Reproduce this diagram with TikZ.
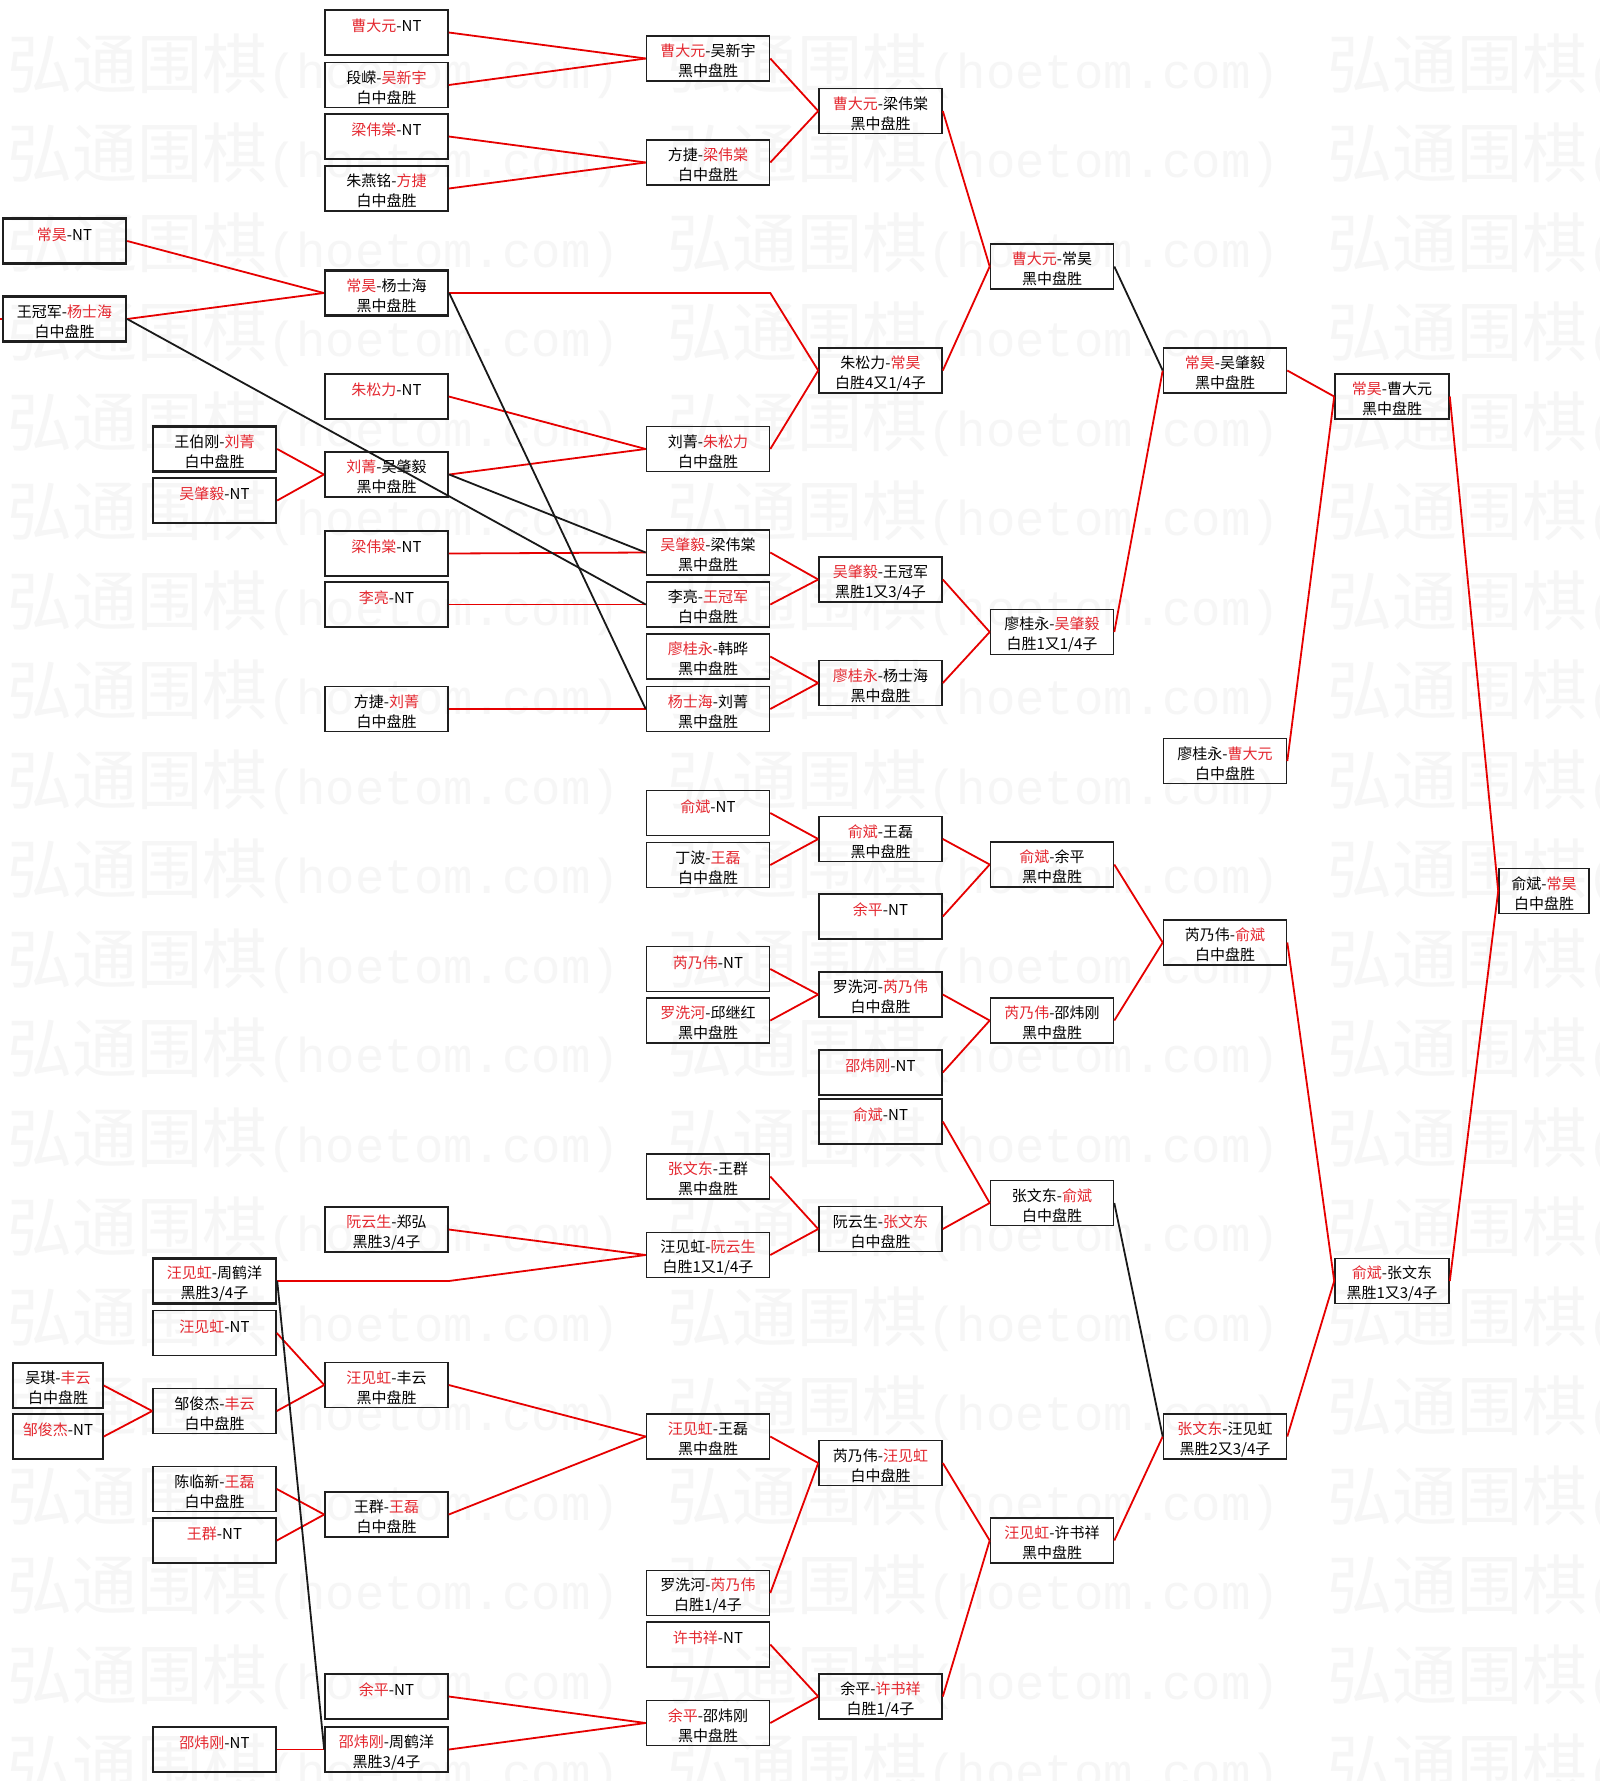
\documentclass[tikz,border=0pt]{standalone}
\usepackage{tikz}
\usepackage{fontspec}
\setmainfont{Noto Sans CJK SC}
\newfontfamily\wmlat{Liberation Mono}
\definecolor{wnred}{RGB}{228,40,48}
\definecolor{lnred}{RGB}{230,0,0}
\newcommand{\wn}[1]{\textcolor{wnred}{#1}}
\newcommand{\gm}[2]{\rule{0pt}{18pt}#1\\\rule{0pt}{1pt}#2}

\begin{document}
\begin{tikzpicture}[x=1pt, y=-1pt,
	box/.style={draw=black!88, line width=1.6pt, minimum width=123pt, minimum height=45pt, inner sep=0pt, align=center, font=\fontsize{15}{20}\selectfont},
	bold/.style={box, line width=2.4pt},
	narrow/.style={box, minimum width=90pt},
	hbox/.style={box, minimum width=114pt},
	win/.style={draw=lnred, line width=1.8pt},
	loss/.style={draw=black!90, line width=1.8pt},
	wm/.style={text=black!3.5, inner sep=0pt, anchor=base west}]
	\useasboundingbox (0,0) rectangle (1600,1781);
	\fill[white] (0,0) rectangle (1600,1781);

	% watermark
	\foreach \k in {0,...,19}
		\foreach \j in {0,1,2}
			\node[wm] at (7+660*\j, 88+89.5*\k) {\fontsize{65}{65}\selectfont 弘通围棋{\wmlat\fontsize{49}{49}\selectfont (hoetom.com)}};

	% upper half
	\node[bold] (a1) at (64.5,241) {\gm{\wn{常昊}-NT}{}};
	\node[bold] (a2) at (64.5,319) {\gm{王冠军-\wn{杨士海}}{白中盘胜}};
	\node[bold] (b1) at (214.5,449) {\gm{王伯刚-\wn{刘菁}}{白中盘胜}};
	\node[bold] (b2) at (214.5,500.5) {\gm{\wn{吴肇毅}-NT}{}};
	\node[box] (c1) at (386.5,32.5) {\gm{\wn{曹大元}-NT}{}};
	\node[box] (c2) at (386.5,85) {\gm{段嵘-\wn{吴新宇}}{白中盘胜}};
	\node[box] (c3) at (386.5,136.5) {\gm{\wn{梁伟棠}-NT}{}};
	\node[box] (c4) at (386.5,188.5) {\gm{朱燕铭-\wn{方捷}}{白中盘胜}};
	\node[bold] (c5) at (386.5,293) {\gm{\wn{常昊}-杨士海}{黑中盘胜}};
	\node[box] (c6) at (386.5,396.5) {\gm{\wn{朱松力}-NT}{}};
	\node[bold] (c7) at (386.5,474.5) {\gm{\wn{刘菁}-吴肇毅}{黑中盘胜}};
	\node[box] (c8) at (386.5,553.5) {\gm{\wn{梁伟棠}-NT}{}};
	\node[box] (c9) at (386.5,604.5) {\gm{\wn{李亮}-NT}{}};
	\node[box] (c10) at (386.5,709) {\gm{方捷-\wn{刘菁}}{白中盘胜}};
	\node[box] (d1) at (708,58.5) {\gm{\wn{曹大元}-吴新宇}{黑中盘胜}};
	\node[box] (d2) at (708,162.5) {\gm{方捷-\wn{梁伟棠}}{白中盘胜}};
	\node[box] (d3) at (708,449) {\gm{刘菁-\wn{朱松力}}{白中盘胜}};
	\node[box] (d4) at (708,552.5) {\gm{\wn{吴肇毅}-梁伟棠}{黑中盘胜}};
	\node[box] (d5) at (708,604.5) {\gm{李亮-\wn{王冠军}}{白中盘胜}};
	\node[box] (d6) at (708,656.5) {\gm{\wn{廖桂永}-韩晔}{黑中盘胜}};
	\node[box] (d7) at (708,709) {\gm{\wn{杨士海}-刘菁}{黑中盘胜}};
	\node[box] (e1) at (880.5,111) {\gm{\wn{曹大元}-梁伟棠}{黑中盘胜}};
	\node[box] (e2) at (880.5,370.5) {\gm{朱松力-\wn{常昊}}{白胜4又1/4子}};
	\node[box] (e3) at (880.5,579.5) {\gm{\wn{吴肇毅}-王冠军}{黑胜1又3/4子}};
	\node[box] (e4) at (880.5,683) {\gm{\wn{廖桂永}-杨士海}{黑中盘胜}};
	\node[box] (f1) at (1052,266.5) {\gm{\wn{曹大元}-常昊}{黑中盘胜}};
	\node[box] (f2) at (1052,632) {\gm{廖桂永-\wn{吴肇毅}}{白胜1又1/4子}};
	\node[box] (g1) at (1225,370.5) {\gm{\wn{常昊}-吴肇毅}{黑中盘胜}};
	\node[box] (g2) at (1225,761) {\gm{廖桂永-\wn{曹大元}}{白中盘胜}};
	\node[hbox] (h1) at (1392,396.5) {\gm{\wn{常昊}-曹大元}{黑中盘胜}};
	\node[narrow] (i1) at (1544,891) {\gm{俞斌-\wn{常昊}}{白中盘胜}};

	% middle
	\node[box] (d8) at (708,813) {\gm{\wn{俞斌}-NT}{}};
	\node[box] (d9) at (708,865) {\gm{丁波-\wn{王磊}}{白中盘胜}};
	\node[box] (d10) at (708,969) {\gm{\wn{芮乃伟}-NT}{}};
	\node[box] (d11) at (708,1020.5) {\gm{\wn{罗洗河}-邱继红}{黑中盘胜}};
	\node[box] (e5) at (880.5,839) {\gm{\wn{俞斌}-王磊}{黑中盘胜}};
	\node[box] (e6) at (880.5,916.5) {\gm{\wn{余平}-NT}{}};
	\node[box] (e7) at (880.5,994.5) {\gm{罗洗河-\wn{芮乃伟}}{白中盘胜}};
	\node[box] (e8) at (880.5,1072.5) {\gm{\wn{邵炜刚}-NT}{}};
	\node[box] (f3) at (1052,864.5) {\gm{\wn{俞斌}-余平}{黑中盘胜}};
	\node[box] (f4) at (1052,1020.5) {\gm{\wn{芮乃伟}-邵炜刚}{黑中盘胜}};
	\node[box] (g3) at (1225,942.5) {\gm{芮乃伟-\wn{俞斌}}{白中盘胜}};
	\node[hbox] (h2) at (1392,1281) {\gm{\wn{俞斌}-张文东}{黑胜1又3/4子}};

	% lower half
	\node[narrow] (a3) at (58,1385.5) {\gm{吴琪-\wn{丰云}}{白中盘胜}};
	\node[narrow] (a4) at (58,1436.5) {\gm{\wn{邹俊杰}-NT}{}};
	\node[bold] (b3) at (214.5,1281) {\gm{\wn{汪见虹}-周鹤洋}{黑胜3/4子}};
	\node[box] (b4) at (214.5,1333) {\gm{\wn{汪见虹}-NT}{}};
	\node[box] (b5) at (214.5,1411) {\gm{邹俊杰-\wn{丰云}}{白中盘胜}};
	\node[box] (b6) at (214.5,1489) {\gm{陈临新-\wn{王磊}}{白中盘胜}};
	\node[box] (b7) at (214.5,1540.5) {\gm{\wn{王群}-NT}{}};
	\node[box] (b8) at (214.5,1749.5) {\gm{\wn{邵炜刚}-NT}{}};
	\node[box] (c11) at (386.5,1229.5) {\gm{\wn{阮云生}-郑弘}{黑胜3/4子}};
	\node[box] (c12) at (386.5,1385) {\gm{\wn{汪见虹}-丰云}{黑中盘胜}};
	\node[box] (c13) at (386.5,1514.5) {\gm{王群-\wn{王磊}}{白中盘胜}};
	\node[box] (c14) at (386.5,1696.5) {\gm{\wn{余平}-NT}{}};
	\node[box] (c15) at (386.5,1749.5) {\gm{\wn{邵炜刚}-周鹤洋}{黑胜3/4子}};
	\node[box] (d12) at (708,1176.5) {\gm{\wn{张文东}-王群}{黑中盘胜}};
	\node[box] (d13) at (708,1255) {\gm{汪见虹-\wn{阮云生}}{白胜1又1/4子}};
	\node[box] (d14) at (708,1436.5) {\gm{\wn{汪见虹}-王磊}{黑中盘胜}};
	\node[box] (d15) at (708,1593) {\gm{罗洗河-\wn{芮乃伟}}{白胜1/4子}};
	\node[box] (d16) at (708,1644.5) {\gm{\wn{许书祥}-NT}{}};
	\node[box] (d17) at (708,1723) {\gm{\wn{余平}-邵炜刚}{黑中盘胜}};
	\node[box] (e9) at (880.5,1121.5) {\gm{\wn{俞斌}-NT}{}};
	\node[box] (e10) at (880.5,1229) {\gm{阮云生-\wn{张文东}}{白中盘胜}};
	\node[box] (e11) at (880.5,1463) {\gm{芮乃伟-\wn{汪见虹}}{白中盘胜}};
	\node[box] (e12) at (880.5,1696.5) {\gm{余平-\wn{许书祥}}{白胜1/4子}};
	\node[box] (f5) at (1052,1203) {\gm{张文东-\wn{俞斌}}{白中盘胜}};
	\node[box] (f6) at (1052,1540.5) {\gm{\wn{汪见虹}-许书祥}{黑中盘胜}};
	\node[box] (g4) at (1225,1436.5) {\gm{\wn{张文东}-汪见虹}{黑胜2又3/4子}};

	% connectors, upper half
	\coordinate (lead) at (0,319);
	\draw[win] (lead) -- (a2.west);
	\draw[win] (a1.east) -- (c5.west);
	\draw[win] (a2.east) -- (c5.west);
	\draw[win] (b1.east) -- (c7.west);
	\draw[win] (b2.east) -- (c7.west);
	\draw[win] (c1.east) -- (d1.west);
	\draw[win] (c2.east) -- (d1.west);
	\draw[win] (c3.east) -- (d2.west);
	\draw[win] (c4.east) -- (d2.west);
	\draw[win] (c5.east) -- (c5.east -| d1.east) -- (e2.west);
	\draw[win] (c6.east) -- (d3.west);
	\draw[win] (c7.east) -- (d3.west);
	\draw[win] (c8.east) -- (d4.west);
	\draw[win] (c9.east) -- (d5.west);
	\draw[win] (c10.east) -- (d7.west);
	\draw[win] (d1.east) -- (e1.west);
	\draw[win] (d2.east) -- (e1.west);
	\draw[win] (d3.east) -- (e2.west);
	\draw[win] (d4.east) -- (e3.west);
	\draw[win] (d5.east) -- (e3.west);
	\draw[win] (d6.east) -- (e4.west);
	\draw[win] (d7.east) -- (e4.west);
	\draw[win] (e1.east) -- (f1.west);
	\draw[win] (e2.east) -- (f1.west);
	\draw[win] (e3.east) -- (f2.west);
	\draw[win] (e4.east) -- (f2.west);
	\draw[win] (f2.east) -- (g1.west);
	\draw[win] (g1.east) -- (h1.west);
	\draw[win] (g2.east) -- (h1.west);
	\draw[win] (h1.east) -- (i1.west);
	\draw[loss] (a2.east) -- (d5.west);
	\draw[loss] (c7.east) -- (d4.west);
	\draw[loss] (c5.east) -- (d7.west);
	\draw[loss] (f1.east) -- (g1.west);

	% connectors, middle
	\draw[win] (d8.east) -- (e5.west);
	\draw[win] (d9.east) -- (e5.west);
	\draw[win] (d10.east) -- (e7.west);
	\draw[win] (d11.east) -- (e7.west);
	\draw[win] (e5.east) -- (f3.west);
	\draw[win] (e6.east) -- (f3.west);
	\draw[win] (e7.east) -- (f4.west);
	\draw[win] (e8.east) -- (f4.west);
	\draw[win] (f3.east) -- (g3.west);
	\draw[win] (f4.east) -- (g3.west);
	\draw[win] (g3.east) -- (h2.west);
	\draw[win] (h2.east) -- (i1.west);

	% connectors, lower half
	\draw[win] (a3.east) -- (b5.west);
	\draw[win] (a4.east) -- (b5.west);
	\draw[win] (b3.east) -- (b3.east -| c11.east) -- (d13.west);
	\draw[win] (b4.east) -- (c12.west);
	\draw[win] (b5.east) -- (c12.west);
	\draw[win] (b6.east) -- (c13.west);
	\draw[win] (b7.east) -- (c13.west);
	\draw[win] (b8.east) -- (c15.west);
	\draw[win] (c11.east) -- (d13.west);
	\draw[win] (c12.east) -- (d14.west);
	\draw[win] (c13.east) -- (d14.west);
	\draw[win] (c14.east) -- (d17.west);
	\draw[win] (c15.east) -- (d17.west);
	\draw[win] (d12.east) -- (e10.west);
	\draw[win] (d13.east) -- (e10.west);
	\draw[win] (d14.east) -- (e11.west);
	\draw[win] (d15.east) -- (e11.west);
	\draw[win] (d16.east) -- (e12.west);
	\draw[win] (d17.east) -- (e12.west);
	\draw[win] (e9.east) -- (f5.west);
	\draw[win] (e10.east) -- (f5.west);
	\draw[win] (e11.east) -- (f6.west);
	\draw[win] (e12.east) -- (f6.west);
	\draw[win] (f6.east) -- (g4.west);
	\draw[win] (g4.east) -- (h2.west);
	\draw[loss] (f5.east) -- (g4.west);
	\draw[loss] (b3.east) -- (c15.west);
\end{tikzpicture}
\end{document}
